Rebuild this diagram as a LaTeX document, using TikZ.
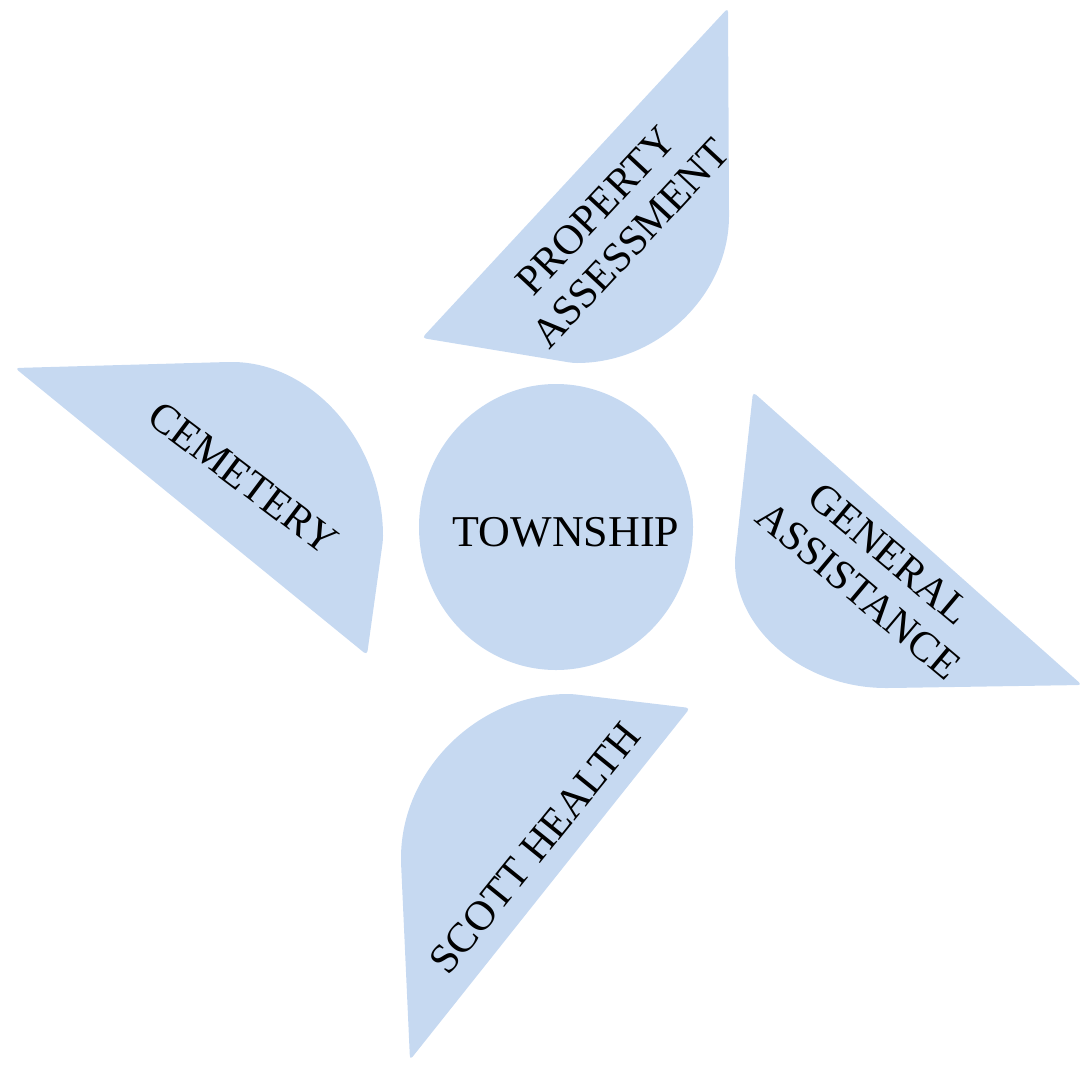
\documentclass[tikz,border=0pt]{standalone}
\usepackage{fontspec}
\setmainfont{Liberation Serif}
\definecolor{petalblue}{RGB}{198,217,241}
\begin{document}
\begin{tikzpicture}[x=1pt,y=-1pt,
  petal/.style={fill=petalblue, draw=none, rounded corners=4pt},
  lbl/.style={font=\fontsize{42}{48}\selectfont, align=center, inner sep=0pt, text=black}]
\useasboundingbox (0,0) rectangle (1083,1065);
% Property Assessment petal (corner bottom right)
\path[petal] (728,8) -- (422,338) -- (573,363) .. controls (659,363) and (729,294) .. (729,212) -- cycle;
% Cemetery petal (corner top right)
\path[petal] (15,368) -- (228,362) .. controls (312,362) and (383,442) .. (383,540) -- (367,655) -- cycle;
% General Assistance petal (corner bottom left)
\path[petal] (753,392) -- (1082,685) -- (890,688) .. controls (804,688) and (735,630) .. (735,558) -- cycle;
% Scott Health petal (corner top left)
\path[petal] (690,708) -- (410,1060) -- (401,862) .. controls (401,770) and (478,694) .. (572,694) -- cycle;
% centre
\fill[petalblue] (556,527) ellipse [x radius=137, y radius=143];
\node[lbl, font=\fontsize{44}{48}\selectfont] (town) at (566,532) {TOWNSHIP};
\node[lbl, rotate=47] (prop) at (613,227) {PROPERTY\\ASSESSMENT};
\node[lbl, rotate=-37] (cem) at (243,478) {CEMETERY};
\node[lbl, rotate=-40] (gen) at (874,572) {GENERAL\\ASSISTANCE};
\node[lbl, rotate=51] (scott) at (535,848) {SCOTT HEALTH};
\end{tikzpicture}
\end{document}
